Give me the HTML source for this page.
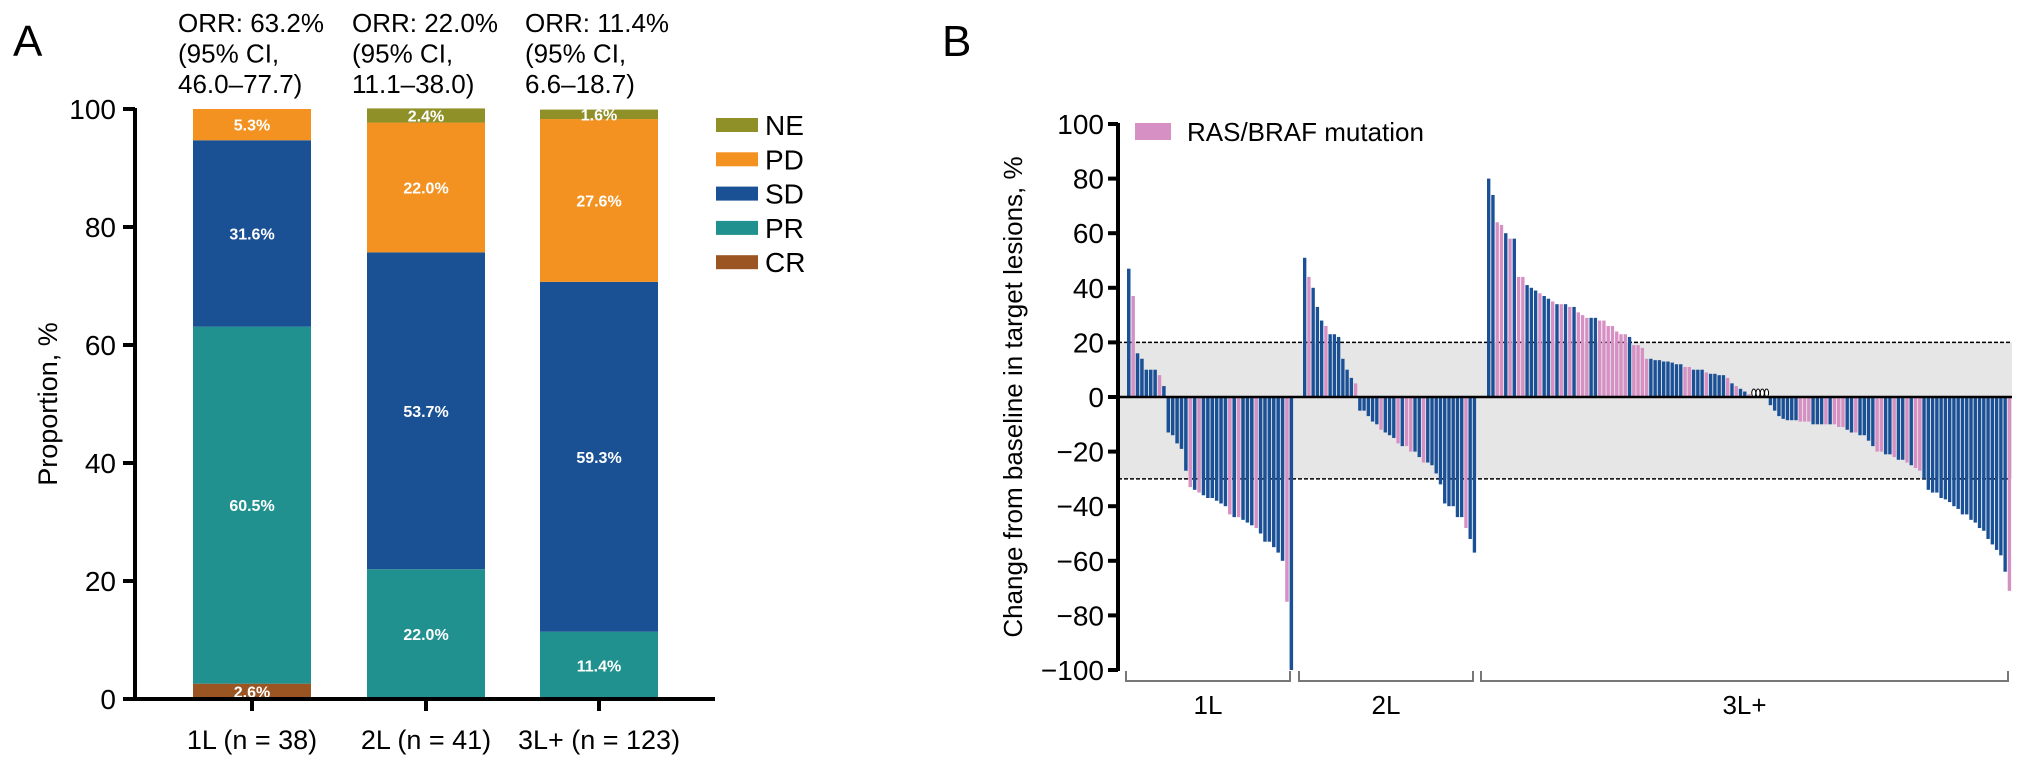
<!DOCTYPE html>
<html><head><meta charset="utf-8">
<style>
html,body{margin:0;padding:0;background:#fff;}
svg{display:block;font-family:"Liberation Sans",Arial,sans-serif;}
</style></head>
<body>
<svg id="chart" width="2032" height="764" viewBox="0 0 2032 764" xmlns="http://www.w3.org/2000/svg">
<g id="panelA"></g>
<g id="panelB"></g>
</svg>
<script>
// ---------- Panel A data ----------
const aCategories = ["1L (n = 38)", "2L (n = 41)", "3L+ (n = 123)"];
const aORR = [["ORR: 63.2%","(95% CI,","46.0\u201377.7)"],["ORR: 22.0%","(95% CI,","11.1\u201338.0)"],["ORR: 11.4%","(95% CI,","6.6\u201318.7)"]];
const aSeriesNames = ["CR","PR","SD","PD","NE"];
const aCR = [2.6, 0, 0];
const aPR = [60.5, 22.0, 11.4];
const aSD = [31.6, 53.7, 59.3];
const aPD = [5.3, 22.0, 27.6];
const aNE = [0, 2.4, 1.6];
const aTicks = [0, 20, 40, 60, 80, 100];

// ---------- Panel B data ----------
const bGroups = ["1L", "2L", "3L+"];
const b1L = [47,37,16,14,10,10,10,8,4,-13,-14,-17,-19,-27,-33,-34,-35,-36,-37,-37,-38,-39,-40,-43,-44,-44,-45,-46,-47,-48,-50,-53,-53,-55,-57,-60,-75,-100];
const b1Lmut = [0,1,0,0,0,0,0,1,0, 0,0,0,0,0,1,0,1,0,0,0,0,0,0,1,0,1,0,0,0,1,0,0,0,0,0,0,1,0];
const b2L = [51,44,40,33,28,26,23,23,22,14,10,7,5,-5,-5,-7,-9,-10,-12,-13,-14,-15,-17,-18,-18,-20,-20,-22,-24,-24,-25,-28,-32,-39,-40,-40,-44,-44,-48,-52,-57];
const b2Lmut = [0,1,0,0,0,1,0,0,0,0,0,0,1, 0,0,0,0,0,1,0,0,0,1,0,1,1,0,0,1,0,0,0,0,0,0,0,0,0,1,0,0];
const b3L = [80,74,64,63,60,58,58,44,44,41,40,39,38,37,36,35,34,34,34,33,33,31,30,29,29,29,28,28,26,26,24,23,23,22,19,19,18,14,14,13.5,13.5,13,13,12.6,12,12,11,11,10,10,10,9,8.5,8.5,8,8,7,5,4,3,2,1,0,0,0,0,
 -3,-5,-7,-8,-8.5,-8.5,-8.5,-9,-9,-9,-10,-10,-10,-10,-10,-10,-11,-11,-12,-13,-13,-14,-14,-16,-18,-20,-20,-21,-21,-22,-23,-23,-24,-25,-26,-27,-30,-34,-35,-35,-37,-37.5,-38.5,-40,-41,-43,-43,-45,-46,-48,-49,-52,-54,-56,-58,-64,-71];
const b3Lmut = [0,0,1,1,0,1,0,1,1,0,0,0,1,0,0,1,0,1,0,1,0,1,1,1,0,0,1,1,1,1,1,1,1,0,1,1,1,1,0,0,0,0,0,0,0,0,1,1,0,0,0,1,0,0,0,0,1,0,1,0,0,1,0,0,0,0,
 0,0,0,0,0,0,0,1,1,1,0,0,0,1,0,1,1,1,0,0,1,0,0,0,0,1,1,0,0,1,0,0,1,0,1,1,0,0,0,0,0,0,0,0,0,0,0,0,0,0,0,0,0,0,0,0,1];
const bTicks = [-100,-80,-60,-40,-20,0,20,40,60,80,100];

const NS = "http://www.w3.org/2000/svg";
function mk(parent, tag, attrs, text){
  const e = document.createElementNS(NS, tag);
  for (const k in attrs) e.setAttribute(k, attrs[k]);
  if (text !== undefined) e.textContent = text;
  parent.appendChild(e);
  return e;
}

// ================= PANEL A =================
(function(){
  const g = document.getElementById("panelA");
  const y0 = 699, y100 = 109;
  const yA = v => y0 + (y100 - y0) * v / 100;
  const centers = [252, 426, 599];
  const bw = 118;
  const colors = {CR:"#9b5523", PR:"#21918f", SD:"#1a5094", PD:"#f39220", NE:"#8f9128"};
  const series = {CR:aCR, PR:aPR, SD:aSD, PD:aPD, NE:aNE};

  let t = mk(g, "text", {x:13, y:56, "font-size":44}, "A");
  
  

  aORR.forEach((lines, i) => {
    const tx = mk(g, "text", {x: centers[i]-74, y: 32, "font-size": 26});
    
    
    lines.forEach((l, j) => mk(tx, "tspan", {x: centers[i]-74, y: 32 + j*30.5}, l));
  });

  aCategories.forEach((c, i) => {
    let acc = 0;
    aSeriesNames.forEach(s => {
      const v = series[s][i];
      if (v <= 0) return;
      const top = yA(acc + v), bot = yA(acc);
      const r = mk(g, "rect", {x: centers[i]-bw/2, y: top, width: bw, height: bot - top, fill: colors[s]});
      
      
      const lbl = mk(g, "text", {x: centers[i], y: (top+bot)/2 + 6, "font-size": 16, "font-weight": "bold", fill: "#fff", "text-anchor": "middle"}, v.toFixed(1) + "%");
      
      
      acc += v;
    });
    const tk = mk(g, "line", {x1: centers[i], x2: centers[i], y1: y0, y2: y0+12, stroke: "#000", "stroke-width": 4});
    
    
    const cl = mk(g, "text", {x: centers[i], y: 749, "font-size": 27, "text-anchor": "middle"}, c);
    
    
  });

  let ax = mk(g, "line", {x1: 135, x2: 135, y1: y100-1, y2: y0+2, stroke: "#000", "stroke-width": 4});
  
  
  ax = mk(g, "line", {x1: 123, x2: 715, y1: y0, y2: y0, stroke: "#000", "stroke-width": 4});
  
  
  aTicks.forEach(v => {
    const tk = mk(g, "line", {x1: 123, x2: 135, y1: yA(v), y2: yA(v), stroke: "#000", "stroke-width": 4});
    
    
    const tl = mk(g, "text", {x: 116, y: yA(v)+10, "font-size": 28, "text-anchor": "end"}, String(v));
    
    
  });
  const yt = mk(g, "text", {x: 0, y: 0, "font-size": 27, "text-anchor": "middle", transform: "translate(57,404) rotate(-90)"}, "Proportion, %");
  
  

  const legOrder = ["NE","PD","SD","PR","CR"];
  legOrder.forEach((s, i) => {
    const cy = 125 + i*34.3;
    const b = mk(g, "rect", {x: 716, y: cy-7, width: 42, height: 14, fill: colors[s]});
    
    
    const lt = mk(g, "text", {x: 765, y: cy+10, "font-size": 28}, s);
    
    
  });
})();

// ================= PANEL B =================
(function(){
  const g = document.getElementById("panelB");
  const yZero = 397, unit = 2.73;
  const yB = v => yZero - v * unit;
  const axX = 1118, rightX = 2012;
  const blue = "#1a5096", pink = "#d690c4";

  let t = mk(g, "text", {x: 942, y: 56, "font-size": 44}, "B");
  
  

  const band = mk(g, "rect", {x: axX, y: yB(20), width: rightX - axX, height: yB(-30) - yB(20), fill: "#e6e6e6"});
  
  
  [20, -30].forEach(v => {
    const l = mk(g, "line", {x1: axX, x2: rightX, y1: yB(v), y2: yB(v), stroke: "#000", "stroke-width": 1.5, "stroke-dasharray": "4,2"});
    
    
  });

  const groups = [
    {vals: b1L, mut: b1Lmut, x0: 1127, x1: 1294, bx0: 1126, bx1: 1290},
    {vals: b2L, mut: b2Lmut, x0: 1303, x1: 1477, bx0: 1299, bx1: 1473},
    {vals: b3L, mut: b3Lmut, x0: 1487, x1: 2012, bx0: 1481, bx1: 2008}
  ];
  groups.forEach((gr, gi) => {
    const n = gr.vals.length;
    const pitch = (gr.x1 - gr.x0) / n;
    gr.vals.forEach((v, i) => {
      const x = gr.x0 + i * pitch;
      if (v === 0) {
        const c = mk(g, "ellipse", {cx: x + pitch/2, cy: yZero - 4, rx: 2, ry: 4, fill: "#fff", stroke: "#000", "stroke-width": 1});
        
        
        return;
      }
      const top = Math.min(yB(v), yZero), h = Math.abs(yB(v) - yZero);
      const r = mk(g, "rect", {x: x, y: top, width: pitch - 0.9, height: h, fill: gr.mut[i] ? pink : blue});
      
      
    });
    const br = mk(g, "path", {d: `M${gr.bx0},671 L${gr.bx0},681 L${gr.bx1},681 L${gr.bx1},671`, fill: "none", stroke: "#777", "stroke-width": 2});
    
    
    const gl = mk(g, "text", {x: (gr.bx0 + gr.bx1)/2, y: 714, "font-size": 26, "text-anchor": "middle"}, bGroups[gi]);
    
    
  });

  const zl = mk(g, "line", {x1: axX, x2: rightX, y1: yZero, y2: yZero, stroke: "#000", "stroke-width": 2.5});
  
  

  const ya = mk(g, "line", {x1: axX, x2: axX, y1: yB(100)-1, y2: yB(-100)+1, stroke: "#000", "stroke-width": 4});
  
  
  bTicks.forEach(v => {
    const tk = mk(g, "line", {x1: axX-10, x2: axX, y1: yB(v), y2: yB(v), stroke: "#000", "stroke-width": 4});
    
    
    const lab = v < 0 ? "\u2212" + Math.abs(v) : String(v);
    const tl = mk(g, "text", {x: axX-14, y: yB(v)+10, "font-size": 28, "text-anchor": "end"}, lab);
    
    
  });
  const yt = mk(g, "text", {x: 0, y: 0, "font-size": 26, "text-anchor": "middle", transform: "translate(1022,397) rotate(-90)"}, "Change from baseline in target lesions, %");
  
  

  const ls = mk(g, "rect", {x: 1135, y: 123, width: 36, height: 17, fill: pink});
  
  
  const lt = mk(g, "text", {x: 1187, y: 141, "font-size": 26}, "RAS/BRAF mutation");
  
  
})();
</script>
</body></html>
